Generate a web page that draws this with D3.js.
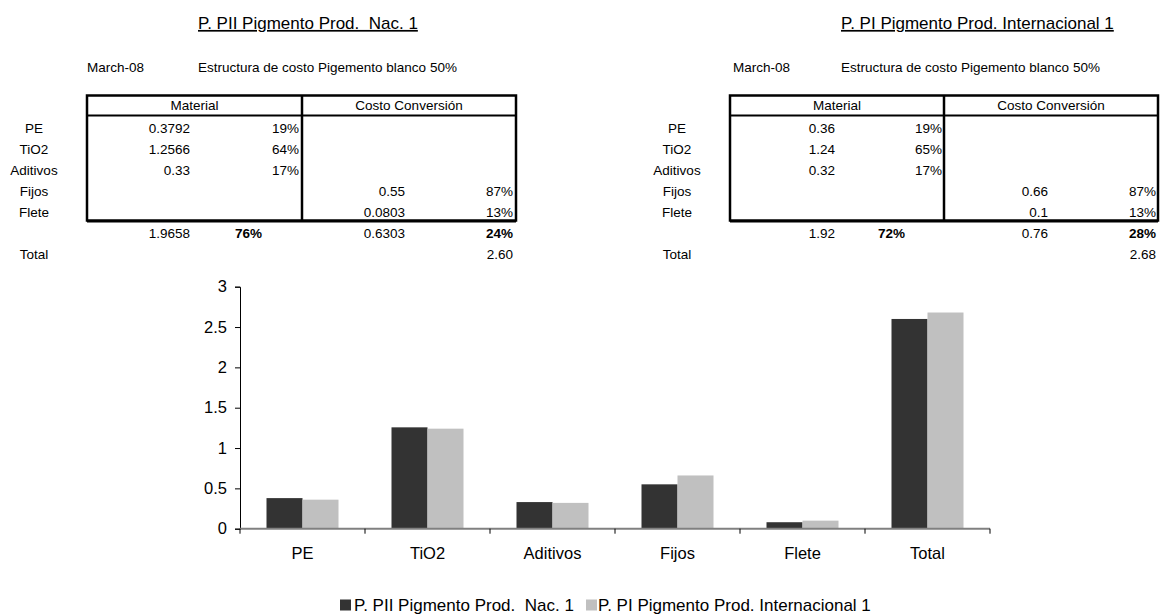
<!DOCTYPE html>
<html>
<head>
<meta charset="utf-8">
<script src="https://cdn.jsdelivr.net/npm/d3@7"></script>
<style>
  html, body { margin: 0; padding: 0; background: #fff; }
  svg text { font-family: "Liberation Sans", Arial, sans-serif; fill: #000; white-space: pre; }
</style>
</head>
<body>
<svg id="chart" width="1161" height="615" xml:space="preserve"></svg>
<script>
// ---- chart data ----
const categories = ["PE", "TiO2", "Aditivos", "Fijos", "Flete", "Total"];
const seriesNames = ["P. PII Pigmento Prod.  Nac. 1", "P. PI Pigmento Prod. Internacional 1"];
const nacValues = [0.3792, 1.2566, 0.33, 0.55, 0.0803, 2.60];
const intlValues = [0.36, 1.24, 0.32, 0.66, 0.1, 2.68];
const yTicks = [0, 0.5, 1, 1.5, 2, 2.5, 3];

// ---- cost-structure tables ----
const tableDate = "March-08";
const tableSubtitle = "Estructura de costo Pigemento blanco 50%";
const headerMaterial = "Material";
const headerConversion = "Costo Conversión";
const rowLabels = ["PE", "TiO2", "Aditivos", "Fijos", "Flete"];
const totalLabel = "Total";

// Nacional product
const nacMaterial = ["0.3792", "1.2566", "0.33", null, null];
const nacMaterialPct = ["19%", "64%", "17%", null, null];
const nacConversion = [null, null, null, "0.55", "0.0803"];
const nacConversionPct = [null, null, null, "87%", "13%"];
const nacSubtotals = ["1.9658", "76%", "0.6303", "24%"];
const nacTotal = "2.60";

// Internacional product
const intlMaterial = ["0.36", "1.24", "0.32", null, null];
const intlMaterialPct = ["19%", "65%", "17%", null, null];
const intlConversion = [null, null, null, "0.66", "0.1"];
const intlConversionPct = [null, null, null, "87%", "13%"];
const intlSubtotals = ["1.92", "72%", "0.76", "28%"];
const intlTotal = "2.68";

const svg = d3.select("#chart");
const colors = ["#333333", "#c0c0c0"];

// ---- draw one table block ----
function drawTable(g, title, material, materialPct, conversion, conversionPct, subtotals, total, L) {
  const fs = 13.5;
  const rowY = i => 128.3 + i * 21.05;

  g.append("text").attr("x", L.titleX).attr("y", 23).attr("dy", "0.35em")
    .style("font-size", "17px").style("text-decoration", "underline").text(title);

  g.append("text").attr("x", L.dateX).attr("y", 67).attr("dy", "0.35em")
    .style("font-size", fs + "px").text(tableDate);
  g.append("text").attr("x", L.subX).attr("y", 67).attr("dy", "0.35em")
    .style("font-size", fs + "px").text(tableSubtitle);

  // headers
  g.append("text").attr("x", (L.boxL + L.mid) / 2).attr("y", 105.5).attr("dy", "0.35em")
    .attr("text-anchor", "middle").style("font-size", fs + "px").text(headerMaterial);
  g.append("text").attr("x", (L.mid + L.boxR) / 2).attr("y", 105.5).attr("dy", "0.35em")
    .attr("text-anchor", "middle").style("font-size", fs + "px").text(headerConversion);

  // row labels and values
  rowLabels.forEach((lab, i) => {
    const y = rowY(i);
    g.append("text").attr("x", L.labelX).attr("y", y).attr("dy", "0.35em")
      .attr("text-anchor", "middle").style("font-size", fs + "px").text(lab);
    const cells = [
      [material[i], L.valR], [materialPct[i], L.pctR],
      [conversion[i], L.convR], [conversionPct[i], L.convPctR]
    ];
    cells.forEach(([v, x]) => {
      if (v == null) return;
      g.append("text").attr("x", x).attr("y", y).attr("dy", "0.35em")
        .attr("text-anchor", "end").style("font-size", fs + "px").text(v);
    });
  });

  // subtotal row
  const ys = rowY(5);
  g.append("text").attr("x", L.valR).attr("y", ys).attr("dy", "0.35em")
    .attr("text-anchor", "end").style("font-size", fs + "px").text(subtotals[0]);
  g.append("text").attr("x", L.boldPctC).attr("y", ys).attr("dy", "0.35em")
    .attr("text-anchor", "middle").style("font-size", fs + "px").style("font-weight", "bold").text(subtotals[1]);
  g.append("text").attr("x", L.convR).attr("y", ys).attr("dy", "0.35em")
    .attr("text-anchor", "end").style("font-size", fs + "px").text(subtotals[2]);
  g.append("text").attr("x", L.convPctR).attr("y", ys).attr("dy", "0.35em")
    .attr("text-anchor", "end").style("font-size", fs + "px").style("font-weight", "bold").text(subtotals[3]);

  // total row
  const yt = rowY(6);
  g.append("text").attr("x", L.labelX).attr("y", yt).attr("dy", "0.35em")
    .attr("text-anchor", "middle").style("font-size", fs + "px").text(totalLabel);
  g.append("text").attr("x", L.convPctR).attr("y", yt).attr("dy", "0.35em")
    .attr("text-anchor", "end").style("font-size", fs + "px").text(total);

  // borders
  const top = 95.5, hdr = 115.5, bot = 220.5;
  g.append("rect").attr("x", L.boxL).attr("y", top).attr("width", L.boxR - L.boxL).attr("height", bot - top)
    .attr("fill", "none").attr("stroke", "#000").attr("stroke-width", 2.5);
  g.append("line").attr("x1", L.mid).attr("x2", L.mid).attr("y1", top).attr("y2", bot)
    .attr("stroke", "#000").attr("stroke-width", 2.5);
  g.append("line").attr("x1", L.boxL).attr("x2", L.boxR).attr("y1", hdr).attr("y2", hdr)
    .attr("stroke", "#000").attr("stroke-width", 2);
  g.append("line").attr("x1", L.boxL).attr("x2", L.boxR).attr("y1", bot + 1).attr("y2", bot + 1)
    .attr("stroke", "#000").attr("stroke-width", 2);
}

drawTable(svg.append("g"), seriesNames[0], nacMaterial, nacMaterialPct, nacConversion, nacConversionPct,
  nacSubtotals, nacTotal,
  { titleX: 198, dateX: 87, subX: 198, labelX: 34, boxL: 87, mid: 302, boxR: 516,
    valR: 190, pctR: 299, boldPctC: 248.5, convR: 405, convPctR: 513 });

drawTable(svg.append("g"), seriesNames[1], intlMaterial, intlMaterialPct, intlConversion, intlConversionPct,
  intlSubtotals, intlTotal,
  { titleX: 841, dateX: 733, subX: 841, labelX: 677, boxL: 730, mid: 944, boxR: 1158,
    valR: 835, pctR: 942, boldPctC: 891.5, convR: 1048, convPctR: 1156 });

// ---- clustered bar chart ----
const plot = { left: 240, right: 990, top: 286.7, bottom: 528.7 };

const x0 = d3.scaleBand().domain(categories).range([plot.left, plot.right]).padding(0);
const x1 = d3.scaleBand().domain(seriesNames)
  .range([x0.bandwidth() * 0.212, x0.bandwidth() * 0.788]).padding(0);
const y = d3.scaleLinear().domain([0, 3]).range([plot.bottom, plot.top]);

const rows = categories.map((c, i) => ({ cat: c, vals: [nacValues[i], intlValues[i]] }));

const bars = svg.append("g");
rows.forEach(r => {
  r.vals.forEach((v, s) => {
    bars.append("rect")
      .attr("x", x0(r.cat) + x1(seriesNames[s]))
      .attr("y", y(v))
      .attr("width", x1.bandwidth())
      .attr("height", y(0) - y(v))
      .attr("fill", colors[s]);
  });
});

// y axis
const yAxis = svg.append("g").attr("transform", `translate(${plot.left},0)`)
  .call(d3.axisLeft(y).tickValues(yTicks).tickSize(5).tickPadding(8).tickFormat(d3.format("")));
yAxis.select(".domain").attr("stroke", "#000").attr("stroke-width", 1);
yAxis.selectAll(".tick line").attr("stroke", "#000");
yAxis.selectAll("text").style("font-size", "16.5px").attr("fill", "#000")
  .style("font-family", "'Liberation Sans', Arial, sans-serif");

// x axis: ticks sit on category boundaries
const boundaries = categories.map(c => x0(c)).concat([plot.right]);
const xAxisG = svg.append("g");
xAxisG.append("line").attr("x1", plot.left).attr("x2", plot.right)
  .attr("y1", y(0)).attr("y2", y(0)).attr("stroke", "#808080").attr("stroke-width", 2);
boundaries.forEach(bx => {
  xAxisG.append("line").attr("x1", bx).attr("x2", bx).attr("y1", y(0)).attr("y2", y(0) + 5)
    .attr("stroke", "#000").attr("stroke-width", 1);
});
categories.forEach(c => {
  xAxisG.append("text").attr("x", x0(c) + x0.bandwidth() / 2).attr("y", 553.5).attr("dy", "0.35em")
    .attr("text-anchor", "middle").style("font-size", "16.5px").text(c);
});

// legend
const legend = svg.append("g");
const legendPos = [{ sq: 340, tx: 354 }, { sq: 586, tx: 598 }];
seriesNames.forEach((name, i) => {
  legend.append("rect").attr("x", legendPos[i].sq).attr("y", 599.5).attr("width", 11).attr("height", 11)
    .attr("fill", colors[i]);
  legend.append("text").attr("x", legendPos[i].tx).attr("y", 605).attr("dy", "0.35em")
    .style("font-size", "17px").text(name);
});
</script>
</body>
</html>
